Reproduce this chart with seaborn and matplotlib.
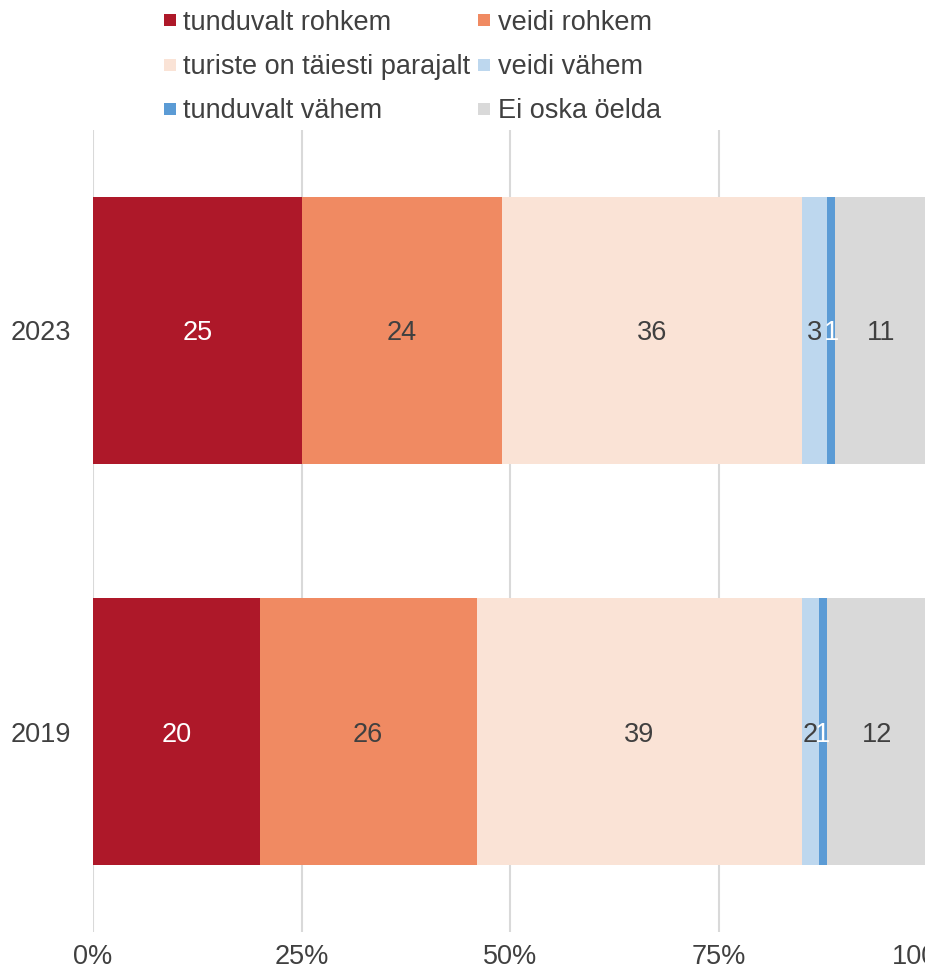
import matplotlib
matplotlib.use("Agg")
import matplotlib.pyplot as plt
from matplotlib.lines import Line2D
from matplotlib.ticker import FuncFormatter
import numpy as np
import pandas as pd
import seaborn as sns

# Survey answers, share of respondents (%)
years = ["2023", "2019"]
categories = ["tunduvalt rohkem", "veidi rohkem", "turiste on täiesti parajalt",
              "veidi vähem", "tunduvalt vähem", "Ei oska öelda"]
values_2023 = [25, 24, 36, 3, 1, 11]
values_2019 = [20, 26, 39, 2, 1, 12]
colors = ["#AE1829", "#F08A62", "#FAE3D6", "#BDD7EE", "#5B9BD5", "#D9D9D9"]
label_colors = ["white", "#404040", "#404040", "#404040", "white", "#404040"]
x_ticks = [0, 25, 50, 75, 100]

FS = 19.5

sns.set_theme(style="white")
plt.rcParams["font.family"] = ["Liberation Sans", "DejaVu Sans"]

rows = []
for year, vals in zip(years, [values_2023, values_2019]):
    cum = np.cumsum(vals)
    for cat, v, c in zip(categories, vals, cum):
        rows.append({"year": year, "category": cat, "value": v, "end": c})
df = pd.DataFrame(rows)

fig = plt.figure(figsize=(9.25, 9.77), dpi=100)
ax = fig.add_axes([93 / 925, 1 - 932 / 977, (927 - 93) / 925, (932 - 130) / 977])

# Stacked bars: draw cumulative totals from the outermost segment inwards
for cat, col in reversed(list(zip(categories, colors))):
    sub = df[df["category"] == cat]
    sns.barplot(data=sub, x="end", y="year", order=years, color=col,
                width=0.667, saturation=1, ax=ax, linewidth=0, zorder=3)

# Segment value labels
for yi, year in enumerate(years):
    sub = df[df["year"] == year]
    for (_, r), tc in zip(sub.iterrows(), label_colors):
        ax.text(r["end"] - r["value"] / 2, yi, f"{r['value']:g}",
                ha="center", va="center_baseline", fontsize=FS, color=tc, zorder=5)

ax.set_xlim(0, 100)
ax.set_ylim(1.5, -0.5)
ax.set_xticks(x_ticks)
ax.xaxis.set_major_formatter(FuncFormatter(lambda v, p: f"{v:.0f}%"))
ax.grid(axis="x", color="#D9D9D9", linewidth=1.5, zorder=0)
ax.grid(axis="y", visible=False)
for s in ax.spines.values():
    s.set_visible(False)
ax.set_xlabel("")
ax.set_ylabel("")
ax.tick_params(axis="both", length=0, labelsize=FS, labelcolor="#404040")
ax.tick_params(axis="x", pad=9)
ax.tick_params(axis="y", pad=16)

# Legend laid out row by row in two columns
order = [0, 2, 4, 1, 3, 5]
handles = [Line2D([], [], marker="s", linestyle="none", markersize=9,
                  markerfacecolor=colors[i], markeredgewidth=0) for i in order]
labels = [categories[i] for i in order]
fig.legend(handles, labels, ncol=2, loc="upper left",
           bbox_to_anchor=(148 / 925, 1.004), frameon=False, fontsize=FS,
           labelcolor="#404040", handlelength=0.6, handletextpad=0.2,
           columnspacing=0.22, labelspacing=0.68, borderaxespad=0.1)

fig.savefig("out.png", dpi=100)
